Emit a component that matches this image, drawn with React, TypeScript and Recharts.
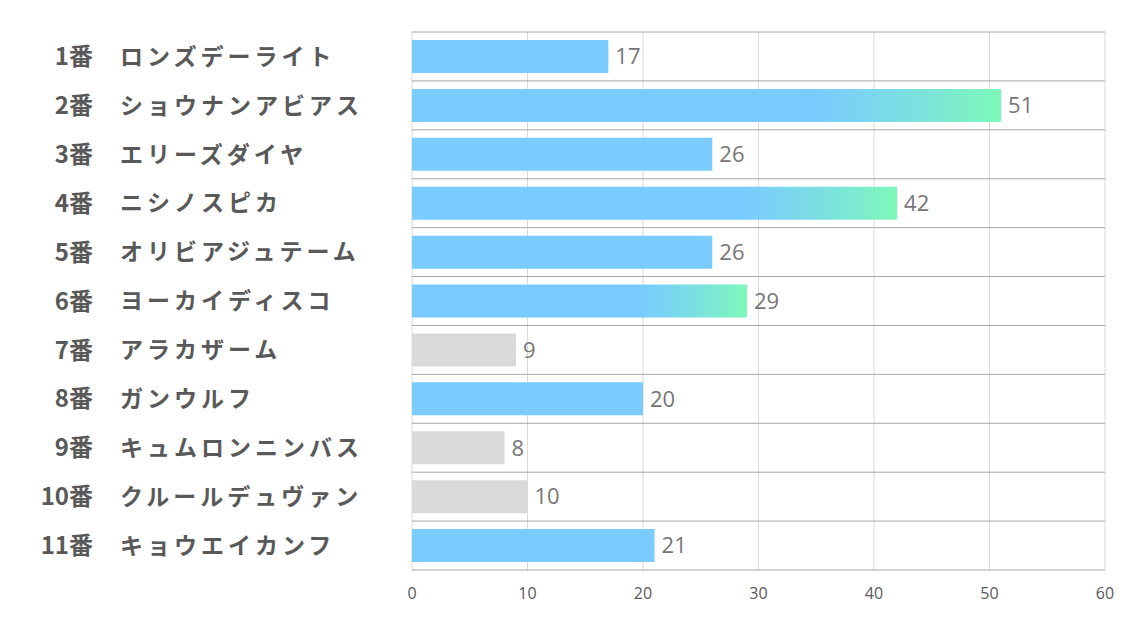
import React from "react";
import {
  BarChart,
  Bar,
  XAxis,
  YAxis,
  CartesianGrid,
  LabelList,
  Cell,
} from "recharts";

const numbers = ["1番", "2番", "3番", "4番", "5番", "6番", "7番", "8番", "9番", "10番", "11番"];
const names = [
  "ロンズデーライト",
  "ショウナンアビアス",
  "エリーズダイヤ",
  "ニシノスピカ",
  "オリビアジュテーム",
  "ヨーカイディスコ",
  "アラカザーム",
  "ガンウルフ",
  "キュムロンニンバス",
  "クルールデュヴァン",
  "キョウエイカンフ",
];
const values = [17, 51, 26, 42, 26, 29, 9, 20, 8, 10, 21];
// kind of each bar: "grad" highlighted, "blue" normal, "gray" low
const kinds = ["blue", "grad", "blue", "grad", "blue", "grad", "gray", "blue", "gray", "gray", "blue"];
const xTicks = [0, 10, 20, 30, 40, 50, 60];

const data = names.map((name, i) => ({
  key: String(i),
  num: numbers[i],
  name,
  value: values[i],
  kind: kinds[i],
}));

const fillFor: Record<string, string> = {
  blue: "#7ACBFF",
  grad: "url(#hlGrad)",
  gray: "#D9D9D9",
};

// row separators at the edges of each category band, taken from the band scale
const rowEdgeGenerator = (props: any) => {
  const { yAxis, offset } = props || {};
  const scale = yAxis && yAxis.scale;
  try {
    if (scale && typeof scale.bandwidth === "function") {
      const bw = scale.bandwidth();
      const starts = data.map((d) => scale(d.key));
      if (starts.every((s: any) => typeof s === "number" && !isNaN(s))) {
        return [...starts, starts[starts.length - 1] + bw];
      }
    }
  } catch (e) {
    /* fall through */
  }
  const n = data.length;
  return Array.from({ length: n + 1 }, (_, i) => offset.top + (i * offset.height) / n);
};

const LabelTick = (props: any) => {
  const { y, payload } = props;
  const row = data[Number(payload.value)];
  if (!row) return null;
  return (
    <g>
      <text
        x={93}
        y={y}
        dy="0.36em"
        textAnchor="end"
        fontFamily="'Noto Sans CJK JP', 'Noto Sans', sans-serif"
        fontWeight={700}
        fontSize={24}
        fill="#595959"
      >
        {row.num}
      </text>
      <text
        x={120}
        y={y}
        dy="0.36em"
        textAnchor="start"
        fontFamily="'Noto Sans CJK JP', 'Noto Sans', sans-serif"
        fontWeight={700}
        fontSize={23}
        letterSpacing={4}
        fill="#595959"
      >
        {row.name}
      </text>
    </g>
  );
};

export default function App() {
  return (
    <div style={{ position: "absolute", left: 0, top: 0, background: "#fff" }}>
      <BarChart
        width={1134}
        height={623}
        data={data}
        layout="vertical"
        margin={{ top: 32, right: 29, bottom: 0, left: 0 }}
        barSize={33}
      >
        <defs>
          <linearGradient id="hlGrad" x1="0" y1="0" x2="1" y2="0">
            <stop offset="0%" stopColor="#7ACBFF" />
            <stop offset="68%" stopColor="#7ACBFF" />
            <stop offset="85%" stopColor="#7BE0E0" />
            <stop offset="100%" stopColor="#7DF9B9" />
          </linearGradient>
        </defs>
        <CartesianGrid horizontal={false} stroke="#D9D9D9" />
        <CartesianGrid
          vertical={false}
          yAxisId="cat"
          stroke="#A6A6A6"
          horizontalCoordinatesGenerator={rowEdgeGenerator}
        />
        <XAxis
          type="number"
          domain={[0, 60]}
          ticks={xTicks}
          axisLine={false}
          tickLine={false}
          height={53}
          tickMargin={12}
          tick={{ fill: "#595959", fontSize: 16, fontFamily: "'Open Sans', sans-serif" }}
          interval={0}
        />
        <YAxis
          yAxisId="cat"
          type="category"
          dataKey="key"
          width={412}
          axisLine={false}
          tickLine={false}
          tick={<LabelTick />}
          interval={0}
        />
        <Bar yAxisId="cat" dataKey="value" isAnimationActive={false}>
          {data.map((d) => (
            <Cell key={d.key} fill={fillFor[d.kind]} />
          ))}
          <LabelList
            dataKey="value"
            position="right"
            offset={7}
            fill="#767676"
            fontSize={22}
            fontFamily="'Open Sans', sans-serif"
          />
        </Bar>
      </BarChart>
    </div>
  );
}
